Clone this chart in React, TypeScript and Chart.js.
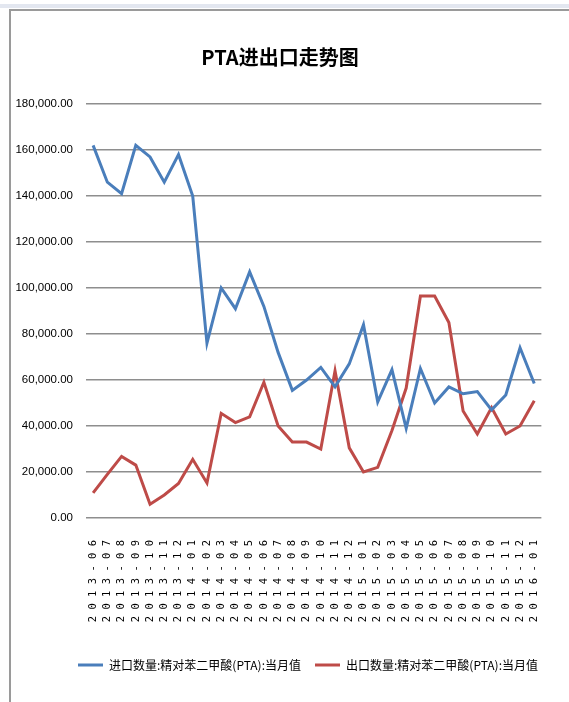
import React, { useEffect, useRef } from "react";
import { Chart, registerables } from "chart.js";

Chart.register(...registerables);

const TITLE = "PTA进出口走势图";

const categories = [
  "2013-06", "2013-07", "2013-08", "2013-09", "2013-10", "2013-11", "2013-12",
  "2014-01", "2014-02", "2014-03", "2014-04", "2014-05", "2014-06", "2014-07",
  "2014-08", "2014-09", "2014-10", "2014-11", "2014-12", "2015-01", "2015-02",
  "2015-03", "2015-04", "2015-05", "2015-06", "2015-07", "2015-08", "2015-09",
  "2015-10", "2015-11", "2015-12", "2016-01",
];

const importLabel = "进口数量:精对苯二甲酸(PTA):当月值";
const exportLabel = "出口数量:精对苯二甲酸(PTA):当月值";

const importValues = [
  162000, 146000, 141000, 162000, 157000, 146000, 158000,
  140000, 76000, 100000, 91000, 107000, 92000, 72000,
  55500, 60000, 65500, 57000, 67000, 84000, 50500,
  64500, 39000, 65000, 50000, 57000, 54000, 55000,
  47000, 53500, 74000, 58500,
];

const exportValues = [
  10900, 19000, 26800, 23000, 6000, 10000, 15000,
  25500, 15200, 45500, 41500, 44000, 59000, 40000,
  33000, 33000, 30000, 64000, 30500, 20000, 22000,
  38000, 56500, 96500, 96500, 85000, 46500, 36500,
  48000, 36500, 40000, 51000,
];

const yMin = 0;
const yMax = 180000;
const yStep = 20000;

const sans = "'Liberation Sans', Arial, 'Noto Sans CJK SC', sans-serif";

const legendShift = {
  id: "legendShift",
  afterLayout(chart: any) {
    const l = chart.legend;
    if (l) {
      l.left += 28;
      l.right += 28;
    }
  },
};

export default function App() {
  const ref = useRef<HTMLCanvasElement | null>(null);

  useEffect(() => {
    if (!ref.current) return;
    const chart = new Chart(ref.current, {
      type: "line",
      data: {
        labels: categories,
        datasets: [
          {
            label: importLabel,
            data: importValues,
            borderColor: "#4a7ebb",
            backgroundColor: "#4a7ebb",
            borderWidth: 3,
            pointRadius: 0,
            tension: 0,
          },
          {
            label: exportLabel,
            data: exportValues,
            borderColor: "#be4b48",
            backgroundColor: "#be4b48",
            borderWidth: 3,
            pointRadius: 0,
            tension: 0,
          },
        ],
      },
      plugins: [legendShift],
      options: {
        animation: false,
        responsive: false,
        layout: { padding: { top: 14, right: 9, bottom: 21, left: 0 } },
        plugins: {
          title: {
            display: true,
            text: TITLE,
            color: "#000",
            font: { size: 20, family: "'Noto Sans CJK SC', sans-serif", weight: "bold" },
            padding: { top: 31, bottom: 35 },
          },
          legend: {
            position: "bottom",
            labels: {
              usePointStyle: true,
              pointStyle: "line",
              pointStyleWidth: 25,
              color: "#000",
              font: { size: 12, family: "'Noto Sans CJK SC', sans-serif" },
              padding: 14,
            },
          },
          tooltip: { enabled: false },
        },
        scales: {
          x: {
            type: "category",
            offset: true,
            grid: { display: false, drawTicks: false },
            border: { display: false },
            ticks: {
              autoSkip: false,
              maxRotation: 90,
              minRotation: 90,
              padding: 22,
              color: "#000",
              font: { size: 10.5, family: "'DejaVu Sans Mono', monospace" },
              callback: function (this: any, v: any) {
                const s = this.getLabelForValue(v) as string;
                return s.split("").join(" ");
              },
            },
            afterFit: (scale: any) => {
              scale.height = 127;
            },
          },
          y: {
            min: yMin,
            max: yMax,
            grid: { color: "#8e8e8e", lineWidth: 1.5, drawTicks: false },
            border: { display: false },
            ticks: {
              stepSize: yStep,
              padding: 13,
              color: "#000",
              font: { size: 11.5, family: sans },
              callback: (v: any) =>
                Number(v).toLocaleString("en-US", {
                  minimumFractionDigits: 2,
                  maximumFractionDigits: 2,
                }),
            },
            afterFit: (scale: any) => {
              scale.width = 86;
            },
          },
        },
      },
    });
    return () => chart.destroy();
  }, []);

  return (
    <div
      style={{
        position: "absolute",
        left: 0,
        top: 0,
        width: 569,
        height: 702,
        background: "#fff",
        overflow: "hidden",
      }}
    >
      <div
        style={{
          position: "absolute",
          left: 0,
          top: 4,
          width: 569,
          height: 4,
          background: "#e3e7f0",
        }}
      />
      <div
        style={{
          position: "absolute",
          left: 9,
          top: 9,
          right: -4,
          bottom: -4,
          borderLeft: "2px solid #9a9a9a",
          borderTop: "2px solid #9a9a9a",
        }}
      />
      <canvas
        ref={ref}
        width={569}
        height={702}
        style={{ position: "absolute", left: 0, top: 0, width: 569, height: 702 }}
      />
    </div>
  );
}
